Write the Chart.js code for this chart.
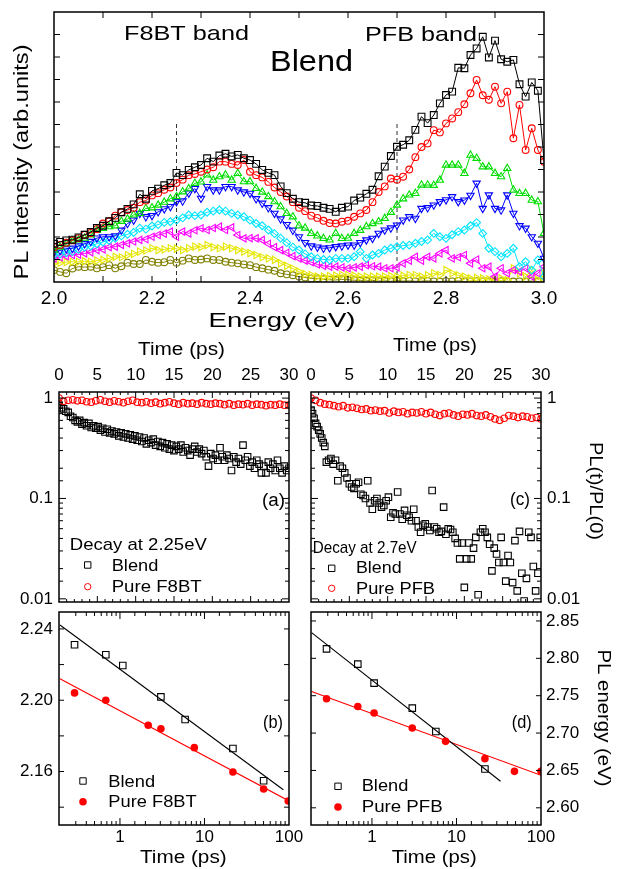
<!DOCTYPE html>
<html>
<head>
<meta charset="utf-8">
<script src="https://cdn.jsdelivr.net/npm/chart.js@4.4.1/dist/chart.umd.min.js"></script>
<style>
  body { margin: 0; background: #fff; }
  #wrap { position: relative; width: 618px; height: 869px; }
  #wrap canvas { position: absolute; left: 0; top: 0; }
</style>
</head>
<body>
<div id="wrap">
  <canvas id="spec" width="618" height="869"></canvas>
  <canvas id="pa" width="618" height="869"></canvas>
  <canvas id="pc" width="618" height="869"></canvas>
  <canvas id="pb" width="618" height="869"></canvas>
  <canvas id="pd" width="618" height="869"></canvas>
</div>
<script>
// ---- spectra (top panel), energy in eV, intensity in arb. units
const energy = [2.0,2.0125,2.025,2.0375,2.05,2.0625,2.075,2.0875,2.1,2.1125,2.125,2.1375,2.15,2.1625,2.175,2.1875,2.2,2.2125,2.225,2.2375,
  2.25,2.2625,2.275,2.2875,2.3,2.3125,2.325,2.3375,2.35,2.3625,2.375,2.3875,2.4,2.4125,2.425,2.4375,2.45,2.4625,2.475,2.4875,
  2.5,2.5125,2.525,2.5375,2.55,2.5625,2.575,2.5875,2.6,2.6125,2.625,2.6375,2.65,2.6625,2.675,2.6875,2.7,2.7125,2.725,2.7375,
  2.75,2.7625,2.775,2.7875,2.8,2.8125,2.825,2.8375,2.85,2.8625,2.875,2.8875,2.9,2.9125,2.925,2.9375,2.95,2.9625,2.975,2.9875,3.0];
const specBlack = [1.70,1.78,1.85,1.88,1.98,2.10,2.22,2.40,2.50,2.70, 2.85,3.10,3.25,3.45,3.90,3.70,4.05,4.15,4.30,4.40,
  4.85,4.75,4.98,5.10,5.20,5.50,5.35,5.62,5.70,5.58, 5.65,5.50,5.42,5.25,4.98,4.85,4.75,4.25,3.95,3.70,
  3.55,3.52,3.40,3.38,3.30,3.25,3.12,3.30,3.35,3.62, 3.75,3.92,4.10,4.70,5.13,5.60,6.01,6.10,6.30,6.76,
  7.35,7.06,7.42,7.94,8.31,8.46,9.52,9.50,10.09,10.38, 10.90,9.98,10.73,9.90,9.79,9.87,8.79,8.24,8.87,8.50, 5.42];
const specRed = [1.55,1.65,1.75,1.85,1.95,2.10,2.18,2.35,2.60,2.70, 2.95,3.10,3.20,3.30,3.55,3.62,3.85,3.95,4.10,4.20,
  4.40,4.55,4.75,4.80,4.90,5.00,5.10,5.35,5.35,5.25, 5.20,5.42,4.90,4.75,4.65,4.45,4.20,4.00,3.80,3.55,
  3.30,3.15,2.95,2.85,2.72,2.62,2.60,2.68,2.72,2.90, 3.05,3.20,3.55,4.00,4.25,4.60,4.55,4.68,5.00,5.55,
  6.00,6.16,6.75,6.65,7.05,7.27,7.55,7.90,8.39,8.98, 8.30,8.10,8.68,7.94,8.46,6.39,7.87,5.87,6.83,5.87, 5.35];
const specGreen = [1.42,1.55,1.70,1.82,1.87,1.95,2.10,2.30,2.38,2.46, 2.50,2.70,2.80,2.98,3.05,3.27,3.30,3.42,3.55,3.70,
  3.80,4.01,4.15,4.39,4.45,4.76,4.53,4.68,4.76,4.53, 4.83,4.46,4.46,4.16,4.00,3.80,3.57,3.35,3.05,2.90,
  2.50,2.40,2.16,2.05,1.94,1.87,2.16,1.94,1.95,2.16, 2.30,2.46,2.60,2.68,2.83,3.10,3.42,3.70,3.87,3.94,
  4.31,4.31,4.30,4.53,5.20,5.20,5.20,4.83,5.64,5.50, 5.12,5.12,4.83,4.68,5.05,4.09,3.94,3.94,3.64,3.57, 2.16];
const specBlue = [1.35,1.40,1.48,1.50,1.60,1.70,1.80,1.95,2.01,2.01, 2.05,2.30,2.60,2.75,3.05,2.90,2.95,3.12,3.25,3.35,
  3.57,3.60,3.95,4.15,3.72,4.24,4.09,4.09,4.24,4.24, 4.09,4.00,3.94,3.70,3.50,3.30,3.05,2.80,2.55,2.30,
  2.01,1.75,1.60,1.55,1.50,1.52,1.57,1.60,1.64,1.64, 1.75,1.87,1.94,2.16,2.31,2.40,2.53,2.75,2.90,2.83,
  3.27,3.30,3.42,3.57,3.65,3.79,3.57,3.64,3.85,4.39, 3.27,3.87,3.27,3.20,3.87,3.05,2.50,2.39,2.01,1.72, 1.05];
const specCyan = [1.20,1.25,1.30,1.35,1.45,1.55,1.60,1.70,1.78,1.85, 1.94,2.05,2.12,2.20,2.39,2.35,2.49,2.55,2.65,2.68,
  2.75,2.85,2.98,2.95,2.98,3.10,3.15,3.20,3.15,3.05, 2.98,2.90,2.75,2.60,2.50,2.31,2.15,1.95,1.75,1.55,
  1.42,1.25,1.12,1.05,1.00,0.98,1.05,1.05,1.05,1.12, 1.35,1.05,1.20,1.27,1.42,1.50,1.57,1.62,1.64,1.72,
  1.80,1.87,2.16,2.01,1.94,2.10,2.24,2.31,2.50,2.64, 2.16,1.50,1.35,1.12,1.27,1.50,0.68,0.90,0.53,0.98, 0.24];
const specMagenta = [1.05,1.10,1.15,1.20,1.22,1.27,1.32,1.42,1.45,1.55, 1.57,1.65,1.72,1.80,1.87,1.90,2.01,2.09,2.15,2.24,
  2.01,2.24,2.16,2.30,2.39,2.31,2.40,2.46,2.31,2.43, 2.09,1.94,1.95,1.94,1.87,1.70,1.55,1.42,1.30,1.15,
  1.05,0.95,0.88,0.78,0.72,0.68,0.68,0.65,0.61,0.65, 0.68,0.75,0.70,0.68,0.61,0.61,0.65,0.83,0.95,1.12,
  0.95,1.12,1.05,1.27,1.42,1.05,1.10,1.20,0.83,1.00, 0.61,0.68,0.24,0.61,0.39,0.53,0.46,0.61,0.24,0.39, 0.68];
const specYellow = [0.83,0.85,0.88,0.90,0.90,0.92,0.90,0.95,0.98,1.05, 1.12,1.10,1.20,1.25,1.35,1.40,1.50,1.42,1.45,1.50,
  1.48,1.42,1.50,1.57,1.55,1.64,1.55,1.50,1.57,1.50, 1.42,1.35,1.28,1.20,1.10,1.05,0.98,0.83,0.72,0.60,
  0.46,0.35,0.31,0.24,0.24,0.26,0.28,0.31,0.31,0.28, 0.24,0.24,0.24,0.24,0.24,0.26,0.24,0.28,0.31,0.31,
  0.24,0.30,0.39,0.31,0.53,0.39,0.30,0.24,0.16,0.18, 0.16,0.12,0.09,0.16,0.09,0.61,0.39,0.24,0.53,0.09, 0.39];
const specOlive = [0.53,0.45,0.39,0.60,0.68,0.66,0.68,0.61,0.66,0.75, 0.61,0.70,0.86,0.80,0.80,0.98,0.90,0.86,0.88,0.98,
  0.86,0.95,1.05,0.98,1.00,1.05,0.98,0.98,0.90,0.86, 0.83,0.78,0.75,0.66,0.61,0.55,0.50,0.39,0.34,0.30,
  0.24,0.20,0.16,0.16,0.12,0.10,0.09,0.12,0.10,0.08, 0.06,0.05,0.07,0.04,0.05,0.03,0.06,0.04,0.05,0.03,
  0.04,0.05,0.03,0.02,0.04,0.03,0.05,0.02,0.03,0.04, 0.02,0.03,0.02,0.04,0.03,0.02,0.03,0.02,0.04,0.02, 0.03];
const bandMarks = [2.25, 2.7];   // dashed lines
const bandMarkTop = 7.1;

// ---- decays PL(t)/PL(0)
const timeBlendA = [0,0.3,0.6,0.9,1.2,1.5,1.8,2.1,2.4,2.7,3,3.3,3.6,3.9,4.2,4.5,4.8,5.1,5.4,5.7,6,6.3,6.6,6.9,7.2,7.5,7.8,8.1,8.4,8.7,
  9,9.3,9.6,9.9,10.2,10.5,10.8,11.1,11.4,11.7,12,12.3,12.6,12.9,13.2,13.5,13.8,14.1,14.4,14.7,15,15.3,15.6,15.9,16.2,16.5,16.8,17.1,17.4,17.7,
  18,18.3,18.6,18.9,19.2,19.5,19.8,20.1,20.4,20.7,21,21.3,21.6,21.9,22.2,22.5,22.8,23.1,23.4,23.7,24,24.3,24.6,24.9,25.2,25.5,25.8,26.1,26.4,26.7,
  27,27.3,27.6,27.9,28.2,28.5,28.8,29.1,29.4,29.7,30];
const decayBlendA = [0.85,0.80,0.78,0.74,0.72,0.66,0.64,0.60,0.58,0.60, 0.55,0.57,0.53,0.56,0.51,0.53,0.50,0.52,0.48,0.50,
  0.46,0.49,0.45,0.47,0.44,0.46,0.42,0.45,0.41,0.44, 0.40,0.43,0.39,0.42,0.38,0.41,0.37,0.40,0.35,0.38,
  0.36,0.39,0.34,0.37,0.33,0.36,0.32,0.35,0.31,0.34, 0.30,0.33,0.31,0.34,0.29,0.32,0.30,0.27,0.31,0.33,
  0.29,0.31,0.28,0.30,0.26,0.21,0.28,0.25,0.27,0.24, 0.32,0.26,0.24,0.27,0.25,0.19,0.26,0.23,0.25,0.22,
  0.34,0.24,0.26,0.21,0.23,0.20,0.24,0.22,0.18,0.21, 0.18,0.23,0.20,0.22,0.19,0.24,0.20,0.18,0.21,0.19, 0.20];
const timePure = [0,0.6,1.2,1.8,2.4,3,3.6,4.2,4.8,5.4,6,6.6,7.2,7.8,8.4,9,9.6,10.2,10.8,11.4,12,12.6,13.2,13.8,14.4,
  15,15.6,16.2,16.8,17.4,18,18.6,19.2,19.8,20.4,21,21.6,22.2,22.8,23.4,24,24.6,25.2,25.8,26.4,27,27.6,28.2,28.8,29.4,30];
const decayPureF8BT = [1.0,0.93,0.95,0.96,0.94,0.95,0.92,0.91,0.94,0.96, 0.93,0.91,0.94,0.92,0.90,0.93,0.95,0.91,0.90,0.92,
  0.89,0.91,0.88,0.90,0.92,0.89,0.87,0.90,0.88,0.89, 0.87,0.90,0.88,0.87,0.89,0.88,0.86,0.88,0.85,0.87,
  0.86,0.88,0.85,0.87,0.86,0.84,0.86,0.85,0.87,0.85, 0.85];
const decayPurePFB = [1.0,0.95,0.90,0.87,0.86,0.84,0.82,0.84,0.80,0.81, 0.79,0.77,0.78,0.75,0.76,0.74,0.75,0.71,0.74,0.72,
  0.73,0.70,0.72,0.71,0.73,0.70,0.72,0.69,0.67,0.70, 0.71,0.68,0.66,0.69,0.68,0.70,0.67,0.66,0.68,0.65,
  0.62,0.60,0.63,0.67,0.66,0.64,0.66,0.65,0.63,0.64, 0.62];
const timeBlendC = [0,0.2,0.4,0.6,0.8,1.0,1.2,1.4,1.6,1.8, 2.0,2.3,2.6,2.9,3.2,3.5,3.8,4.1,4.4,4.7,
  5.0,5.3,5.6,5.9,6.2,6.5,6.8,7.1,7.4,7.7, 8.0,8.3,8.6,8.9,9.2,9.5,9.8,10.1,10.4,10.7,
  11.0,11.3,11.6,11.9,12.2,12.5,12.8,13.1,13.4,13.7, 14.0,14.3,14.6,14.9,15.2,15.5,15.8,16.1,16.4,16.7,
  17.0,17.3,17.6,17.9,18.2,18.5,18.8,19.1,19.4,19.7, 20.0,20.3,20.6,20.9,21.2,21.5,21.8,22.1,22.4,22.7,
  23.0,23.3,23.6,23.9,24.2,24.5,24.8,25.1,25.4,25.7, 26.0,26.3,26.6,26.9,27.2,27.5,27.8,28.1,28.4,28.7,
  29.0,29.3,29.6,29.9];
const decayBlendC = [0.76,0.70,0.63,0.56,0.52,0.48,0.44,0.40,0.36,0.33, 0.23,0.24,0.25,0.22,0.24,0.15,0.21,0.20,0.18,0.16,
  0.14,0.13,0.126,0.14,0.145,0.11,0.107,0.10,0.15,0.09, 0.078,0.095,0.10,0.09,0.082,0.085,0.095,0.103,0.065,0.072,
  0.07,0.116,0.07,0.062,0.076,0.068,0.065,0.06,0.078,0.06, 0.052,0.046,0.054,0.056,0.052,0.048,0.12,0.052,0.05,0.046,
  0.047,0.082,0.044,0.05,0.049,0.046,0.040,0.036,0.025,0.036, 0.013,0.025,0.036,0.025,0.032,0.041,0.011,0.046,0.050,0.046,
  0.041,0.035,0.019,0.032,0.028,0.023,0.041,0.023,0.015,0.027, 0.023,0.0145,0.038,0.012,0.047,0.018,0.0095,0.016,0.046,0.041,
  0.021,0.012,0.018,0.041];

// ---- PL peak energy vs time (eV)
const timeBlendB = [0.29,0.68,1.08,3.05,5.9,21.7,50.1];
const energyBlendB = [2.2311,2.2255,2.2195,2.2019,2.1892,2.1729,2.1548];
const timePureB = [0.29,0.68,2.16,3.05,7.58,21.7,50.1,98];
const energyPureB = [2.2041,2.2000,2.186,2.184,2.1734,2.1597,2.1502,2.1435];
const fitTimeBlendB = [0.195,85.7], fitEnergyBlendB = [2.2422,2.1498];
const fitTimePureB = [0.195,100], fitEnergyPureB = [2.2121,2.1435];
const timeBlendD = [0.29,0.68,1.06,3.0,5.7,21.7];
const energyBlendD = [2.8126,2.7922,2.7668,2.7334,2.7022,2.652];
const timePureD = [0.29,0.68,1.06,3.0,7.43,21.7,48.5,100];
const energyPureD = [2.7459,2.7356,2.7268,2.7068,2.6889,2.6658,2.6488,2.6488];
const fitTimeBlendD = [0.193,33.2], fitEnergyBlendD = [2.8344,2.6355];
const fitTimePureD = [0.193,100], fitEnergyPureD = [2.7556,2.6435];

const FONT = '"Liberation Sans", Arial, Helvetica, sans-serif';
Chart.defaults.font.family = FONT;
Chart.defaults.color = '#000';

const pts = (xs, ys) => xs.map((x, i) => ({x, y: ys[i]}));
const isDecade = v => Math.abs(Math.log10(v) - Math.round(Math.log10(v))) < 1e-6;

// inner tick lengths per chart/axis
const tickLen = {
  spec: {x: () => 6, y: () => 6},
  pa: {x: v => (Math.round(v) % 5 === 0 ? 6 : 3), y: v => (isDecade(v) ? 7 : 4)},
  pc: {x: v => (Math.round(v) % 5 === 0 ? 6 : 3), y: v => (isDecade(v) ? 7 : 4)},
  pb: {x: v => (isDecade(v) ? 7 : 4), y: () => 5},
  pd: {x: v => (isDecade(v) ? 7 : 4), y: () => 5}
};

// free text: x = centre, y = baseline, w = target width
const texts = {
  spec: [
    {s: 'F8BT band', x: 186.5, y: 40, w: 125, size: 21},
    {s: 'PFB band', x: 421, y: 41, w: 112, size: 21},
    {s: 'Blend', x: 311.5, y: 71, w: 83, size: 29},
    {s: 'Energy (eV)', x: 282, y: 327, w: 147, size: 21},
    {s: 'PL intensity (arb.units)', x: 28, y: 162, w: 235, size: 20, rot: -Math.PI / 2}
  ],
  pa: [
    {s: 'Time (ps)', x: 181.5, y: 355, w: 87, size: 18},
    {s: '(a)', x: 273.5, y: 506, w: 23, size: 18},
    {s: 'Decay at 2.25eV', x: 138.3, y: 550, w: 137, size: 17},
    {s: 'Blend', x: 135, y: 570.7, w: 46.6, size: 17},
    {s: 'Pure F8BT', x: 156.7, y: 591.7, w: 90, size: 17}
  ],
  pc: [
    {s: 'Time (ps)', x: 435, y: 351, w: 84, size: 18},
    {s: '(c)', x: 520, y: 505, w: 20, size: 18},
    {s: 'Decay at 2.7eV', x: 364.7, y: 552.7, w: 104, size: 17},
    {s: 'Blend', x: 378.8, y: 573.3, w: 45.7, size: 17},
    {s: 'Pure PFB', x: 395.5, y: 594.3, w: 79, size: 17},
    {s: 'PL(t)/PL(0)', x: 590, y: 491, w: 98, size: 19, rot: Math.PI / 2}
  ],
  pb: [
    {s: 'Time (ps)', x: 183.3, y: 863, w: 86.7, size: 18},
    {s: '(b)', x: 273, y: 728, w: 20, size: 18},
    {s: 'Blend', x: 131.7, y: 786.7, w: 46.7, size: 17},
    {s: 'Pure F8BT', x: 152.5, y: 807, w: 88.4, size: 17}
  ],
  pd: [
    {s: 'Time (ps)', x: 434.2, y: 863, w: 85, size: 18},
    {s: '(d)', x: 521.7, y: 727.7, w: 20, size: 18},
    {s: 'Blend', x: 385, y: 790.7, w: 46.6, size: 17},
    {s: 'Pure PFB', x: 402.2, y: 812.3, w: 81, size: 17},
    {s: 'PL energy (eV)', x: 598, y: 718, w: 137, size: 19, rot: Math.PI / 2}
  ]
};
// legend symbols
const keys = {
  pa: [{t: 'rect', x: 87.7, y: 565, c: '#000'}, {t: 'ring', x: 87.7, y: 586.7, c: '#ff0000'}],
  pc: [{t: 'rect', x: 331.7, y: 568.3, c: '#000'}, {t: 'ring', x: 331.7, y: 588.3, c: '#ff0000'}],
  pb: [{t: 'rect', x: 83, y: 781, c: '#000'}, {t: 'disc', x: 83, y: 801.7, c: '#ff0000'}],
  pd: [{t: 'rect', x: 338, y: 786.3, c: '#000'}, {t: 'disc', x: 338, y: 807, c: '#ff0000'}]
};

function drawText(ctx, t) {
  ctx.save();
  ctx.font = t.size + 'px ' + FONT;
  ctx.fillStyle = '#000';
  ctx.textAlign = 'center';
  ctx.textBaseline = 'alphabetic';
  ctx.translate(t.x, t.y);
  if (t.rot) ctx.rotate(t.rot);
  const nat = ctx.measureText(t.s).width;
  ctx.scale(t.w / nat, 1);
  ctx.fillText(t.s, 0, 0);
  ctx.restore();
}

function drawKey(ctx, k) {
  ctx.save();
  ctx.lineWidth = 1;
  ctx.strokeStyle = k.c;
  ctx.fillStyle = k.c;
  ctx.beginPath();
  if (k.t === 'rect') ctx.rect(k.x - 3.2, k.y - 3.2, 6.4, 6.4);
  else ctx.arc(k.x, k.y, k.t === 'disc' ? 3.8 : 3.2, 0, Math.PI * 2);
  if (k.t === 'disc') ctx.fill(); else ctx.stroke();
  ctx.restore();
}

const frameTicks = {
  id: 'frameTicks',
  afterDatasetsDraw(chart) {
    const id = chart.canvas.id;
    const {ctx, chartArea: a} = chart;
    const lens = tickLen[id];
    ctx.save();
    ctx.strokeStyle = '#000';
    ctx.lineWidth = 1;
    ['x', 'y'].forEach(ax => {
      const sc = chart.scales[ax];
      sc.ticks.forEach(t => {
        const p = sc.getPixelForValue(t.value);
        const len = lens[ax](t.value);
        ctx.beginPath();
        if (ax === 'x') {
          if (p <= a.left + 0.5 || p >= a.right - 0.5) return;
          ctx.moveTo(p, a.bottom); ctx.lineTo(p, a.bottom - len);
          ctx.moveTo(p, a.top); ctx.lineTo(p, a.top + len);
        } else {
          if (p <= a.top + 0.5 || p >= a.bottom - 0.5) return;
          ctx.moveTo(a.left, p); ctx.lineTo(a.left + len, p);
          ctx.moveTo(a.right, p); ctx.lineTo(a.right - len, p);
        }
        ctx.stroke();
      });
    });
    ctx.lineWidth = 1.5;
    ctx.strokeRect(a.left, a.top, a.right - a.left, a.bottom - a.top);
    ctx.restore();
    (texts[id] || []).forEach(t => drawText(ctx, t));
    (keys[id] || []).forEach(k => drawKey(ctx, k));
  }
};

function makeChart(id, frame, sizes, scales, datasets) {
  return new Chart(document.getElementById(id), {
    type: 'scatter',
    data: {datasets},
    options: {
      responsive: false,
      animation: false,
      devicePixelRatio: 1,
      events: [],
      layout: {padding: {
        left: frame.l - (sizes.left || 0),
        right: 618 - frame.r - (sizes.right || 0),
        top: frame.t - (sizes.top || 0),
        bottom: 869 - frame.b - (sizes.bottom || 0)
      }},
      plugins: {legend: {display: false}, tooltip: {enabled: false}},
      scales
    },
    plugins: [frameTicks]
  });
}

const plain = {grid: {display: false, drawTicks: false}, border: {display: false}};

// top spectra
const specSeries = [
  {y: specBlack, c: '#000000', s: 'rect', r: 4.8, rot: 0},
  {y: specRed, c: '#ff0000', s: 'circle', r: 3.4, rot: 0},
  {y: specGreen, c: '#00dd00', s: 'triangle', r: 4.2, rot: 0},
  {y: specBlue, c: '#0000ff', s: 'triangle', r: 4.2, rot: 180},
  {y: specCyan, c: '#00e5ff', s: 'rectRot', r: 3.9, rot: 0},
  {y: specMagenta, c: '#ff00ff', s: 'triangle', r: 4.2, rot: 270},
  {y: specYellow, c: '#e6e600', s: 'triangle', r: 4.2, rot: 90},
  {y: specOlive, c: '#808000', s: 'circle', r: 3.4, rot: 0}
];
const specSets = specSeries.map(o => ({
  data: pts(energy, o.y), showLine: true, borderColor: o.c, borderWidth: 1,
  pointStyle: o.s, pointRadius: o.r, pointRotation: o.rot, pointBorderWidth: 1.1,
  pointBorderColor: o.c, pointBackgroundColor: 'rgba(0,0,0,0)', backgroundColor: 'rgba(0,0,0,0)'
}));
bandMarks.forEach(e => specSets.push({
  data: [{x: e, y: 0}, {x: e, y: bandMarkTop}], showLine: true, borderColor: '#333',
  borderWidth: 1, borderDash: [4, 3], pointRadius: 0
}));
makeChart('spec', {l: 54, t: 12, r: 544, b: 282}, {bottom: 30}, {
  x: Object.assign({type: 'linear', position: 'bottom', min: 2, max: 3,
    ticks: {stepSize: 0.1, autoSkip: false, maxRotation: 0, padding: 5, font: {size: 19},
      callback: v => (Math.round(v * 10) % 2 === 0 ? v.toFixed(1) : '')},
    afterFit: s => { s.height = 30; }}, plain),
  y: Object.assign({type: 'linear', position: 'left', min: 0, max: 12,
    ticks: {stepSize: 1, display: false},
    afterFit: s => { s.width = 0; }}, plain)
}, specSets);

// decay panels
const timeAxis = () => Object.assign({type: 'linear', position: 'top', min: 0, max: 30,
  ticks: {stepSize: 1, autoSkip: false, maxRotation: 0, padding: 6, font: {size: 17},
    callback: v => (Math.round(v) % 5 === 0 ? String(Math.round(v)) : '')},
  afterFit: s => { s.height = 40; }}, plain);
const ratioAxis = pos => Object.assign({type: 'logarithmic', position: pos, min: 0.0093, max: 1.15,
  ticks: {autoSkip: false, padding: 6, font: {size: 17},
    callback: v => (isDecade(v) ? (v >= 1 ? '1' : v.toFixed(-Math.round(Math.log10(v)))) : '')},
  afterFit: s => { s.width = 40; }}, plain);
const squares = (data) => ({data, pointStyle: 'rect', pointRadius: 4.6, pointBorderWidth: 1.1,
  pointBorderColor: '#000', pointBackgroundColor: 'rgba(0,0,0,0)'});
const rings = (data) => ({data, pointStyle: 'circle', pointRadius: 3.3, pointBorderWidth: 1.1,
  pointBorderColor: '#ff0000', pointBackgroundColor: 'rgba(0,0,0,0)'});

makeChart('pa', {l: 59, t: 392, r: 289, b: 602}, {top: 40, left: 40},
  {x: timeAxis(), y: ratioAxis('left')},
  [rings(pts(timePure, decayPureF8BT)), squares(pts(timeBlendA, decayBlendA))]);
makeChart('pc', {l: 311, t: 392, r: 541, b: 602}, {top: 40, right: 40},
  {x: timeAxis(), y: ratioAxis('right')},
  [rings(pts(timePure, decayPurePFB)), squares(pts(timeBlendC, decayBlendC))]);

// peak energy panels
const logTime = () => Object.assign({type: 'logarithmic', position: 'bottom', min: 0.19, max: 100,
  ticks: {autoSkip: false, maxRotation: 0, padding: 2, font: {size: 17},
    callback: v => (isDecade(v) ? String(Math.round(v)) : '')},
  afterFit: s => { s.height = 25; }}, plain);
const fitLine = (data, c) => ({data, showLine: true, borderColor: c, borderWidth: 1.1, pointRadius: 0});
const discs = (data) => ({data, pointStyle: 'circle', pointRadius: 3.8, pointBorderWidth: 0,
  pointBackgroundColor: '#ff0000'});

makeChart('pb', {l: 59, t: 612, r: 289, b: 825}, {bottom: 25, left: 40}, {
  x: logTime(),
  y: Object.assign({type: 'linear', position: 'left', min: 2.13, max: 2.2495,
    ticks: {stepSize: 0.02, includeBounds: false, padding: 6, font: {size: 17},
      callback: v => (Math.round(v * 100) % 4 === 0 ? v.toFixed(2) : '')},
    afterFit: s => { s.width = 40; }}, plain)
}, [
  squares(pts(timeBlendB, energyBlendB)), discs(pts(timePureB, energyPureB)),
  fitLine(pts(fitTimeBlendB, fitEnergyBlendB), '#000'), fitLine(pts(fitTimePureB, fitEnergyPureB), '#ff0000')
]);
makeChart('pd', {l: 311, t: 612, r: 541, b: 825}, {bottom: 25, right: 40}, {
  x: logTime(),
  y: Object.assign({type: 'linear', position: 'right', min: 2.577, max: 2.862,
    ticks: {stepSize: 0.025, includeBounds: false, padding: 5, font: {size: 17},
      callback: v => (Math.round(v * 1000) % 50 === 0 ? v.toFixed(2) : '')},
    afterFit: s => { s.width = 40; }}, plain)
}, [
  squares(pts(timeBlendD, energyBlendD)), discs(pts(timePureD, energyPureD)),
  fitLine(pts(fitTimeBlendD, fitEnergyBlendD), '#000'), fitLine(pts(fitTimePureD, fitEnergyPureD), '#ff0000')
]);
</script>
</body>
</html>
